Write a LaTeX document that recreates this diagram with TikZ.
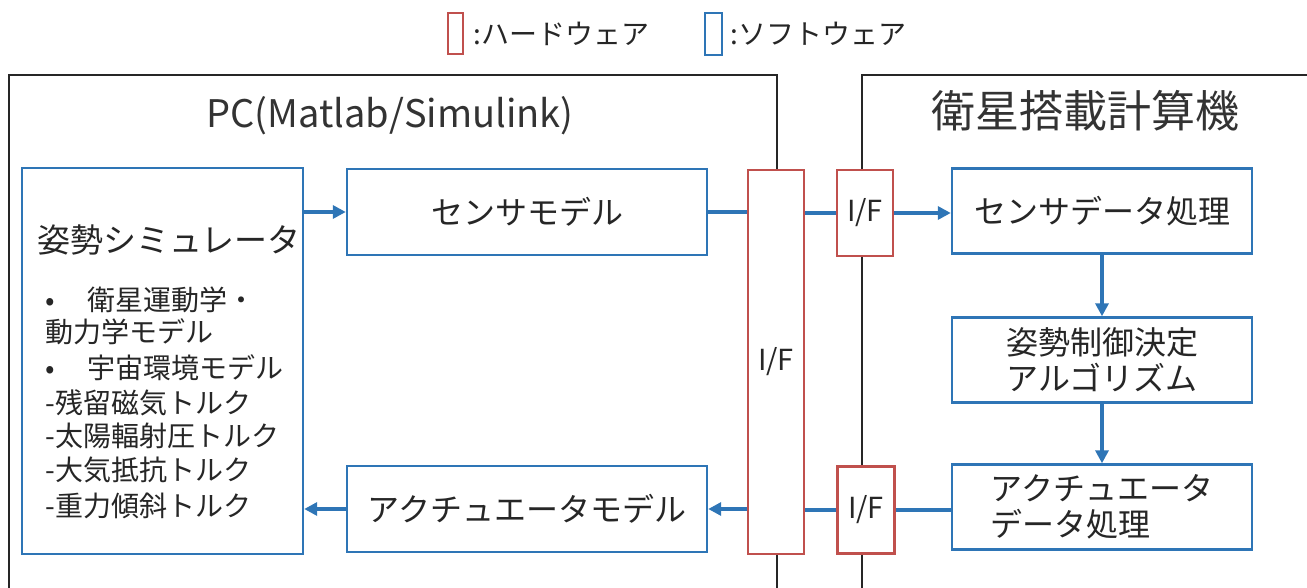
\documentclass[tikz,border=0pt]{standalone}
\usepackage{fontspec}
\setmainfont{Noto Sans CJK JP}
\usetikzlibrary{arrows.meta}

\definecolor{swblue}{RGB}{46,117,182}
\definecolor{hwred}{RGB}{192,80,77}

\begin{document}
\begin{tikzpicture}[x=1pt,y=-1pt,
  swbox/.style={draw=swblue,line width=2.4pt,fill=white,inner sep=0pt,text=black!85},
  hwbox/.style={draw=hwred,line width=2.4pt,fill=white,inner sep=0pt,text=black!85},
  frame/.style={draw=black!85,line width=2.4pt},
  link/.style={draw=swblue,line width=4pt},
  flow/.style={link,-{Triangle[length=13pt,width=13pt]}},
  boxfont/.style={font=\fontsize{32}{36}\selectfont},
  listline/.style={anchor=west,text=black!85,font=\fontsize{28}{28}\selectfont},
]

  \useasboundingbox (0,0) rectangle (1307,588);
  \clip (0,0) rectangle (1307,588);

  % legend
  \draw (455.5,34) node[hwbox,line width=2pt,minimum width=15pt,minimum height=41pt] (hwkey) {};
  \draw (hwkey.east) ++(6,0) node[anchor=west,text=black!85,font=\fontsize{28}{28}\selectfont] (hwlabel) {:ハードウェア};
  \draw (713.5,34) node[swbox,line width=2pt,minimum width=17pt,minimum height=42pt] (swkey) {};
  \draw (swkey.east) ++(4,0) node[anchor=west,text=black!85,font=\fontsize{28}{28}\selectfont] (swlabel) {:ソフトウェア};

  % the two computers
  \draw[frame] (9,75) rectangle (777,620);
  \draw[frame] (862,75) rectangle (1340,620);
  \draw (390,116) node[text=black!80,font=\fontsize{38}{40}\selectfont] (pctitle) {PC(Matlab/Simulink)};
  \draw (1085,111) node[text=black!80,font=\fontsize{44}{46}\selectfont] (obctitle) {衛星搭載計算機};

  % PC side
  \draw (162.5,361) node[swbox,minimum width=281pt,minimum height=386pt] (sim) {};
  \draw (34,240) node[anchor=west,text=black!85,font=\fontsize{33}{33}\selectfont] (simname) {姿勢シミュレータ}
    ++(8,60) node[listline] (dyn) {\makebox[42pt][l]{•}衛星運動学・}
    ++(0,32) node[listline] (dyn2) {動力学モデル}
    ++(0,36) node[listline] (env) {\makebox[42pt][l]{•}宇宙環境モデル}
    ++(0,35) node[listline] (trq1) {-残留磁気トルク}
    ++(0,33) node[listline] (trq2) {-太陽輻射圧トルク}
    ++(0,34) node[listline] (trq3) {-大気抵抗トルク}
    ++(0,36) node[listline] (trq4) {-重力傾斜トルク};

  \draw (527,212) node[swbox,boxfont,minimum width=360pt,minimum height=86pt] (sensmod) {センサモデル};
  \draw (527,509) node[swbox,boxfont,minimum width=360pt,minimum height=86pt] (actmod) {アクチュエータモデル};

  % interfaces
  \draw (776,362) node[hwbox,font=\fontsize{29}{29}\selectfont,minimum width=56pt,minimum height=384pt] (bigif) {I/F};
  \draw (865,213) node[hwbox,font=\fontsize{29}{29}\selectfont,minimum width=56pt,minimum height=86pt] (ifa) {I/F};
  \draw (866,510) node[hwbox,font=\fontsize{29}{29}\selectfont,minimum width=57pt,minimum height=87pt] (ifb) {I/F};

  % on-board side
  \draw (1102,211) node[swbox,boxfont,minimum width=300pt,minimum height=85pt] (sensproc) {センサデータ処理};
  \draw (1102,360) node[swbox,boxfont,align=center,minimum width=300pt,minimum height=85pt] (algo) {姿勢制御決定\\アルゴリズム};
  \draw (1102,507) node[swbox,boxfont,align=left,minimum width=300pt,minimum height=85pt] (actproc) {アクチュエータ\\データ処理};

  % signal flow
  \draw[flow] (sim.east |- sensmod) -- (sensmod.west);
  \draw[link] (sensmod.east) -- (sensmod.east -| bigif.west);
  \draw[link] (bigif.east |- ifa) -- (ifa.west);
  \draw[flow] (ifa.east) -- (ifa.east -| sensproc.west);
  \draw[flow] (sensproc) -- (algo);
  \draw[flow] (algo) -- (actproc);
  \draw[link] (actproc.west |- ifb) -- (ifb.east);
  \draw[link] (ifb.west) -- (ifb.west -| bigif.east);
  \draw[flow] (bigif.west |- actmod) -- (actmod.east);
  \draw[flow] (actmod.west) -- (sim.east |- actmod);

\end{tikzpicture}
\end{document}
